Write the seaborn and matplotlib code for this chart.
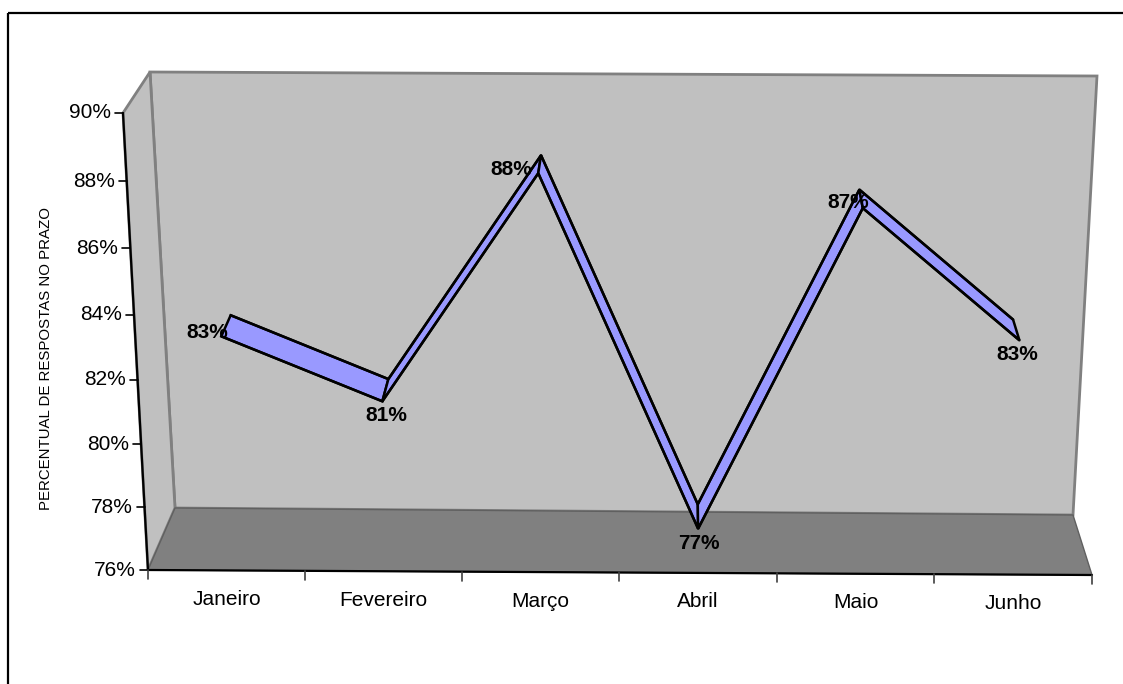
import numpy as np
import matplotlib
matplotlib.use("Agg")
import matplotlib.pyplot as plt
from matplotlib.patches import Polygon, Rectangle
import seaborn as sns

# ---- data -------------------------------------------------------------
months = ["Janeiro", "Fevereiro", "Março", "Abril", "Maio", "Junho"]
on_time_pct = [83, 81, 88, 77, 87, 83]
y_ticks = [76, 78, 80, 82, 84, 86, 88, 90]
y_title = "PERCENTUAL DE RESPOSTAS NO PRAZO"

# ---- styling / layout -------------------------------------------------
sns.set_theme(style="white")
plt.rcParams["font.family"] = ["Liberation Sans", "DejaVu Sans"]

WALL = "#C0C0C0"
FLOOR = "#808080"
EDGE = "#808080"
RIBBON = "#9999FF"

# corners of the front and back planes of the 3-D box (canvas pixels)
FRONT = {"bl": (148, 570), "br": (1092, 575), "tr": (1116, 117), "tl": (123, 113)}
BACK = {"bl": (175, 508), "br": (1073, 515), "tr": (1097, 76), "tl": (150, 72)}
RIB_W0, RIB_W1 = 0.22, 0.63   # depth span of the ribbon

# label offsets from the front vertex of each point (pixels)
label_offsets = [(-14, -4), (4, 14), (-27, -4), (1, 15), (-15, -6), (-2, 14)]


def homography(c):
    src = [(0, 0), (1, 0), (1, 1), (0, 1)]
    dst = [c["bl"], c["br"], c["tr"], c["tl"]]
    A, b = [], []
    for (x, y), (X, Y) in zip(src, dst):
        A.append([x, y, 1, 0, 0, 0, -x * X, -y * X]); b.append(X)
        A.append([0, 0, 0, x, y, 1, -x * Y, -y * Y]); b.append(Y)
    h = np.linalg.solve(np.array(A, float), np.array(b, float))
    return np.append(h, 1.0).reshape(3, 3)


H_FRONT = homography(FRONT)
H_BACK = homography(BACK)


def apply_h(H, u, v):
    p = H @ np.array([u, v, 1.0])
    return p[:2] / p[2]


def project(u, v, w):
    pf = apply_h(H_FRONT, u, v)
    pb = apply_h(H_BACK, u, v)
    return pf + w * (pb - pf)


ymin, ymax = y_ticks[0], y_ticks[-1]
n = len(months)


def u_of(i):
    return (i + 0.5) / n


def v_of(val):
    return (val - ymin) / (ymax - ymin)


fig = plt.figure(figsize=(11.23, 6.84), dpi=100)
ax = fig.add_axes([0, 0, 1, 1])

# outer frame
ax.add_patch(Rectangle((8, 13), 1300, 900, fill=False, ec="black", lw=1.6, zorder=1))


def quad(pts, **kw):
    ax.add_patch(Polygon(np.array(pts), closed=True, **kw))


# walls and floor
back_wall = [project(0, 0, 1), project(1, 0, 1), project(1, 1, 1), project(0, 1, 1)]
side_wall = [project(0, 0, 0), project(0, 0, 1), project(0, 1, 1), project(0, 1, 0)]
floor = [project(0, 0, 0), project(1, 0, 0), project(1, 0, 1), project(0, 0, 1)]
quad(back_wall, fc=WALL, ec=EDGE, lw=2, zorder=2)
quad(side_wall, fc=WALL, ec=EDGE, lw=2, zorder=2)
quad(floor, fc=FLOOR, ec="#606060", lw=1, zorder=3)

# front axis lines
p0, p1 = project(0, 0, 0), project(0, 1, 0)
ax.plot([p0[0], p1[0]], [p0[1], p1[1]], color="black", lw=1.6, zorder=4)
q0, q1 = project(0, 0, 0), project(1, 0, 0)
ax.plot([q0[0], q1[0]], [q0[1], q1[1]], color="black", lw=1.6, zorder=4)

# y ticks and labels
for t in y_ticks:
    p = project(0, v_of(t), 0)
    ax.plot([p[0] - 8, p[0]], [p[1], p[1]], color="black", lw=1.2, zorder=4)
    ax.text(p[0] - 12, p[1], f"{t}%", ha="right", va="center", fontsize=15, color="black")

# x ticks and labels
for i in range(n + 1):
    p = project(i / n, 0, 0)
    ax.plot([p[0], p[0]], [p[1], p[1] + 9], color="#404040", lw=1.2, zorder=4)
for i, m in enumerate(months):
    p = project(u_of(i), 0, 0)
    ax.text(p[0], p[1] + 29, m, ha="center", va="center", fontsize=15, color="black")

ax.text(46, 359, y_title, rotation=90, ha="center", va="center", fontsize=10.8, color="black")

# ribbon: one face per segment between consecutive months
front_pts = [project(u_of(i), v_of(val), RIB_W0) for i, val in enumerate(on_time_pct)]
back_pts = [project(u_of(i), v_of(val), RIB_W1) for i, val in enumerate(on_time_pct)]
for i in range(n - 1):
    quad([front_pts[i], front_pts[i + 1], back_pts[i + 1], back_pts[i]],
         fc=RIBBON, ec="black", lw=1.8, joinstyle="miter", zorder=5 + i)

# front and back ribbon edges
fx, fy = zip(*front_pts)
bx, by = zip(*back_pts)
sns.lineplot(x=list(fx), y=list(fy), sort=False, color="black", lw=1.8, ax=ax, zorder=12)
sns.lineplot(x=list(bx), y=list(by), sort=False, color="black", lw=1.8, ax=ax, zorder=12)

# value labels
for (px, py), val, (dx, dy) in zip(front_pts, on_time_pct, label_offsets):
    ax.text(px + dx, py + dy, f"{val}%", ha="center", va="center",
            fontsize=15, fontweight="bold", color="black", zorder=20)

ax.set_xlim(0, 1123)
ax.set_ylim(684, 0)
ax.axis("off")

fig.savefig("out.png", dpi=100)
